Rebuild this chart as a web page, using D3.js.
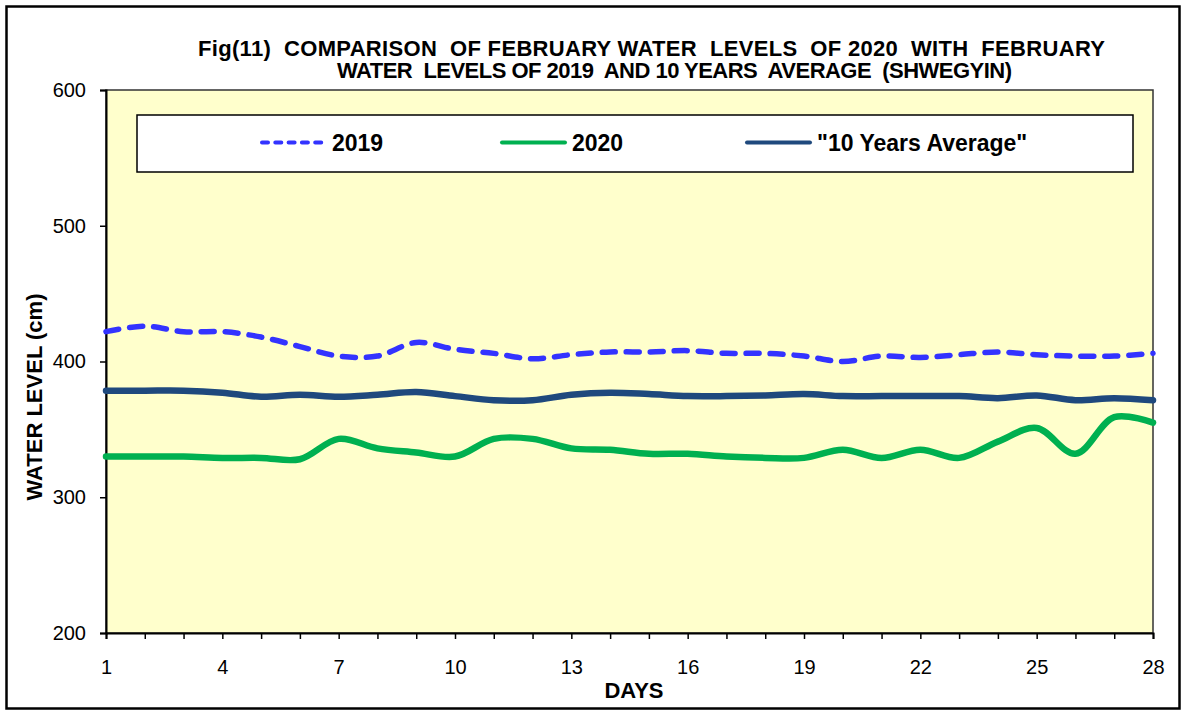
<!DOCTYPE html>
<html lang="en">
<head>
    <meta charset="utf-8">
    <title>Shwegyin February water levels</title>
    <script src="https://d3js.org/d3.v7.min.js" charset="utf-8"></script>
    <style>
        body { margin: 0; background: #fff; }
        text { font-family: "Liberation Sans", Arial, sans-serif; }
    </style>
</head>
<body>

    <script>

    // days of February
    var days = d3.range(1, 29)
    var dayLabels = [1, 4, 7, 10, 13, 16, 19, 22, 25, 28]
    var levelTicks = [200, 300, 400, 500, 600]

    // water levels (cm)
    var wl2019 = [422, 426, 422, 422, 418, 411, 404, 404, 414, 409, 406, 402, 405, 407,
                  407, 408, 406, 406, 404, 400, 404, 403, 405, 407, 405, 404, 404, 406]
    var wl2020 = [330, 330, 330, 329, 329, 328, 343, 336, 333, 330, 343, 343, 336, 335,
                  332, 332, 330, 329, 329, 335, 329, 335, 329, 341, 351, 332, 359, 355]
    var avg10  = [378.5, 378.5, 378.5, 377, 374, 375.5, 374, 375.5, 377.5, 374.5, 371.5, 371.5, 375.5, 377,
                  376, 374.5, 374.5, 375, 376, 374.5, 374.5, 374.5, 374.5, 373, 375, 371.5, 373, 371.5]

    var seriesNames = ["2019", "2020", "\"10 Years Average\""]

    var w = 1182, h = 711
    var pLeft = 106, pRight = 1153, pTop = 90, pBottom = 633

    var svg = d3.select("body").append("svg").attr("width", w).attr("height", h)

    // outer frame
    svg.append("rect").attr("x", 6.5).attr("y", 6.5).attr("width", 1173).attr("height", 702)
        .attr("fill", "#fff").attr("stroke", "#000").attr("stroke-width", 2.5)

    var x = d3.scaleLinear().domain([1, 28]).range([pLeft, pRight])
    var y = d3.scaleLinear().domain([200, 600]).range([pBottom, pTop])

    // plot area
    svg.append("rect").attr("x", pLeft).attr("y", pTop).attr("width", pRight - pLeft).attr("height", pBottom - pTop)
        .attr("fill", "#FFFFCC").attr("stroke", "#333").attr("stroke-width", 1.5)

    // title
    var title = svg.append("g").attr("font-weight", "bold").attr("font-size", 22)
    title.append("text").attr("x", 198).attr("y", 56).attr("textLength", 907).attr("lengthAdjust", "spacing")
        .style("white-space", "pre")
        .text("Fig(11)  COMPARISON  OF FEBRUARY WATER  LEVELS  OF 2020  WITH  FEBRUARY")
    title.append("text").attr("x", 337).attr("y", 78).attr("textLength", 675).attr("lengthAdjust", "spacing")
        .style("white-space", "pre")
        .text("WATER  LEVELS OF 2019  AND 10 YEARS  AVERAGE  (SHWEGYIN)")

    // axes
    var yAxis = d3.axisLeft(y).tickValues(levelTicks).tickSize(6).tickPadding(14)
    var gy = svg.append("g").attr("transform", "translate(" + pLeft + ",0)").call(yAxis)
    gy.selectAll("text").attr("font-size", 20).attr("fill", "#000")

    var xAxis = d3.axisBottom(x).tickValues(days).tickSize(6).tickPadding(21)
        .tickFormat(function (d) { return dayLabels.indexOf(d) >= 0 ? d : "" })
    var gx = svg.append("g").attr("transform", "translate(0," + pBottom + ")").call(xAxis)
    gx.selectAll("text").attr("font-size", 20).attr("fill", "#000")

    svg.selectAll(".domain").attr("stroke", "#000").attr("stroke-width", 2)
    svg.selectAll(".tick line").attr("stroke", "#000").attr("stroke-width", 1.5)

    svg.append("text").attr("x", 634).attr("y", 698).attr("text-anchor", "middle")
        .attr("font-weight", "bold").attr("font-size", 22).text("DAYS")
    svg.append("text").attr("transform", "translate(42,397) rotate(-90)").attr("text-anchor", "middle")
        .attr("font-weight", "bold").attr("font-size", 22).text("WATER LEVEL (cm)")

    // lines
    var line = d3.line()
        .x(function (d, i) { return x(days[i]) })
        .y(function (d) { return y(d) })
        .curve(d3.curveCatmullRom.alpha(0.5))

    var styles = [
        { data: wl2019, color: "#3333FF", width: 5.5, dash: "13,11" },
        { data: wl2020, color: "#00B050", width: 6.5, dash: null },
        { data: avg10,  color: "#1F497D", width: 6.5, dash: null }
    ]

    styles.forEach(function (s) {
        svg.append("path").datum(s.data).attr("d", line).attr("fill", "none")
            .attr("stroke", s.color).attr("stroke-width", s.width)
            .attr("stroke-linecap", "round").attr("stroke-linejoin", "round")
            .attr("stroke-dasharray", s.dash)
    })

    // legend
    svg.append("rect").attr("x", 137).attr("y", 115).attr("width", 996).attr("height", 57)
        .attr("fill", "#fff").attr("stroke", "#000").attr("stroke-width", 1.5)

    var legendX = [262, 502, 747]
    styles.forEach(function (s, i) {
        var g = svg.append("g").attr("transform", "translate(" + legendX[i] + ",142.5)")
        g.append("line").attr("x1", 0).attr("x2", 63).attr("y1", 0).attr("y2", 0)
            .attr("stroke", s.color).attr("stroke-width", 4).attr("stroke-linecap", "round")
            .attr("stroke-dasharray", s.dash ? "6,7.3" : null)
        g.append("text").attr("x", 70).attr("y", 8.5).attr("font-weight", "bold")
            .attr("font-size", 23).text(seriesNames[i])
    })

    </script>

</body>
</html>
